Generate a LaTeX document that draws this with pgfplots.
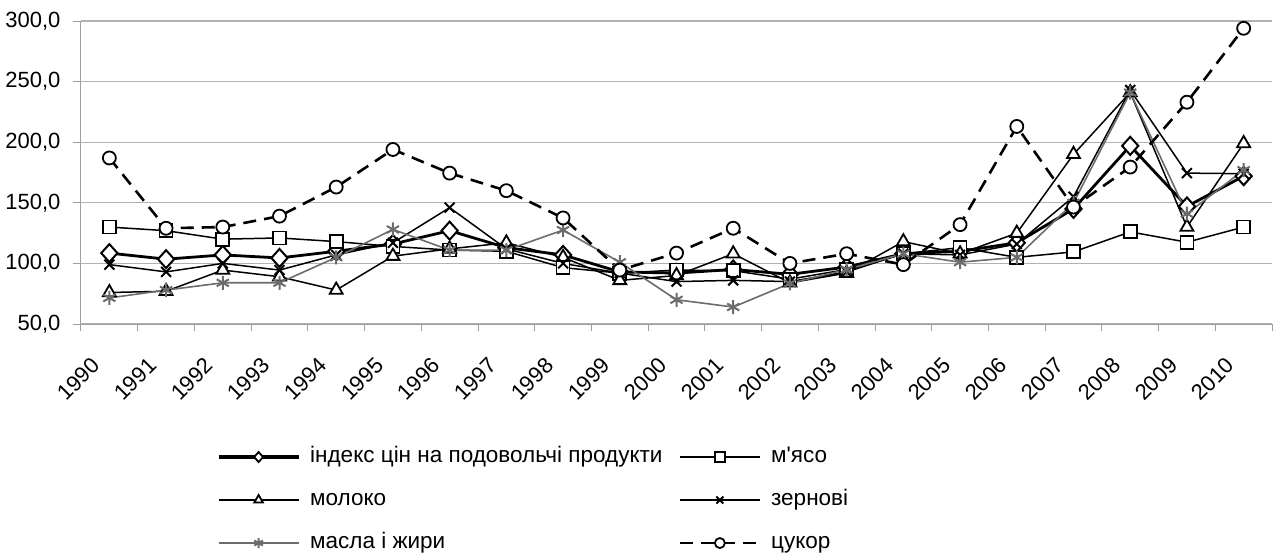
\documentclass[border=0pt]{standalone}
\usepackage{pgfplots}
\pgfplotsset{compat=1.18}
\usepackage{pgfplotstable}
\usepackage{fontspec}
\setmainfont{Liberation Sans}[Ligatures=TeXOff]

\pgfplotstableread{
x     idx    meat   milk   grain  oil    sugar
0.5   108.5  130    76     99     71.5   187
1.5   103.5  127    77     93     78     129
2.5   107    120    94.5   100    84     130
3.5   104.5  121    89     94.5   84     139
4.5   110    118    78     107    105    163
5.5   116    114    106    117    128    194
6.5   127    111    112    146    111    174.5
7.5   113    110    117    112    111    160
8.5   107    96.5   105    100    127.5  137.5
9.5   93     92     86     92     101    94.5
10.5  92     94.5   90     85     70     108.5
11.5  95     94     108    86     64     129
12.5  91     87     84     85     83.5   100
13.5  97     95     92     93     95     108
14.5  108    108    118    108    108    99
15.5  110    113    108    107    101    132
16.5  117    105    125    116    105    213
17.5  145    109.5  190    155    150    146.5
18.5  197    126    241    243    241    179.5
19.5  147    117.5  130    174.5  141    233
20.5  172    130    199    174    177    294
}\data

\begin{document}
\begin{tikzpicture}
\path[use as bounding box] (-81pt,-231pt) rectangle (1192pt,324pt);
\begin{axis}[
  scale only axis,
  width=1191pt, height=303pt,
  xmin=0, xmax=21, ymin=50, ymax=300,
  enlargelimits=false,
  axis x line*=bottom, axis y line*=left,
  axis line style={draw=gray!75, line width=1pt},
  ymajorgrids,
  grid style={draw=gray!60, line width=1.1pt},
  ytick={50,100,...,300},
  xtick={0.5,1.5,...,20.5},
  xticklabels={1990,1991,1992,1993,1994,1995,1996,1997,1998,1999,2000,2001,2002,2003,2004,2005,2006,2007,2008,2009,2010},
  minor xtick={0,1,...,21},
  tick align=outside,
  major tick length=8pt,
  minor tick length=7pt,
  major x tick style={draw=none},
  minor x tick style={draw=gray!75, line width=1pt},
  major y tick style={draw=gray!75, line width=1pt},
  /pgf/number format/.cd, fixed, fixed zerofill, precision=1, use comma, 1000 sep={}, assume math mode=true,
  /pgfplots/.cd,
  yticklabel style={font=\fontsize{22}{26}\selectfont, xshift=-9pt},
  xticklabel style={font=\fontsize{22}{26}\selectfont, xshift=-19pt, yshift=-24pt, rotate=45, anchor=north east, inner sep=0pt},
  legend columns=2,
  legend cell align=left,
  legend style={draw=none, fill=none, inner sep=0pt, outer sep=0pt,
    at={(axis description cs:0.1142,-0.581)}, anchor=west,
    font=\fontsize{22.5}{26}\selectfont,
    nodes={inner sep=0pt, text height=16pt, text depth=5pt, anchor=west},
    row sep=22pt,
    /tikz/every odd column/.append style={column sep=10pt},
    /tikz/every even column/.append style={column sep=16pt}},
  legend image code/.code={\draw[mark repeat=2,mark phase=2,#1, mark size=5pt] plot coordinates {(0pt,0pt) (40pt,0pt) (80pt,0pt)};},
]
\addplot[black, line width=2.8pt, mark=diamond*, mark size=9pt, mark options={fill=white, line width=2pt, xscale=1.2}, legend image post style={line width=3.2pt, mark options={fill=white, line width=1.8pt, xscale=1.2}}] table[x=x,y=idx]{\data};
\addlegendentry{індекс цін на подовольчі продукти}
\addplot[black, line width=1.5pt, mark=square*, mark size=6.5pt, mark options={fill=white, line width=1.8pt}] table[x=x,y=meat]{\data};
\addlegendentry{м'ясо}
\addplot[black, line width=1.5pt, mark=triangle*, mark size=7.5pt, mark options={fill=white, line width=1.8pt}] table[x=x,y=milk]{\data};
\addlegendentry{молоко}
\addplot[black, line width=1.5pt, mark=x, mark size=7pt, mark options={line width=2pt}] table[x=x,y=grain]{\data};
\addlegendentry{зернові}
\addplot[gray!85!black, line width=1.6pt, mark=asterisk, mark size=7pt, mark options={line width=2pt}] table[x=x,y=oil]{\data};
\addlegendentry{масла і жири}
\addplot[black, line width=2.6pt, dash pattern=on 13pt off 8pt, mark=*, mark size=6.5pt, mark options={solid, fill=white, line width=1.8pt}] table[x=x,y=sugar]{\data};
\addlegendentry{цукор}
\end{axis}
\end{tikzpicture}
\end{document}
